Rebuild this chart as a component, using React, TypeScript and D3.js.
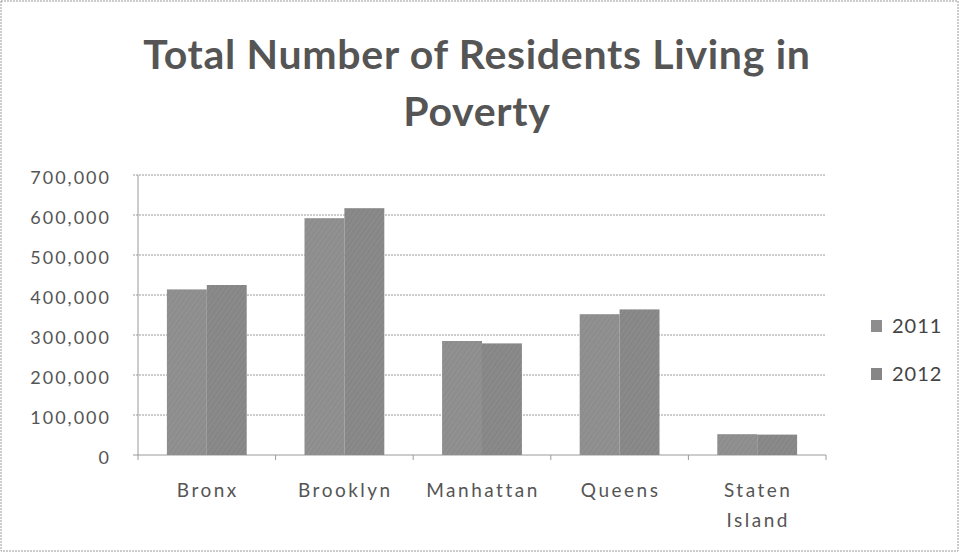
import React from "react";
import * as d3 from "d3";

const categories = ["Bronx", "Brooklyn", "Manhattan", "Queens", "Staten Island"];
const seriesNames = ["2011", "2012"];
const values2011 = [414000, 592000, 285000, 352000, 52000];
const values2012 = [425000, 617000, 279000, 364000, 51000];
const yTicks = [0, 100000, 200000, 300000, 400000, 500000, 600000, 700000];
const titleLines = ["Total Number of Residents Living in", "Poverty"];

const W = 960;
const H = 552;
const FONT = "Lato, 'Open Sans', sans-serif";

export default function App() {
  const left = 138, right = 826, top = 175, bottom = 455;
  const x = d3.scaleBand<string>().domain(categories).range([left, right]).paddingInner(0).paddingOuter(0);
  const y = d3.scaleLinear().domain([0, 700000]).range([bottom, top]);
  const groupW = x.bandwidth() * 0.58;
  const inner = d3.scaleBand<string>().domain(seriesNames).range([0, groupW]).padding(0);
  const series = [values2011, values2012];
  const colors = ["#8d8d8d", "#868686"];
  const fmt = d3.format(",");

  return (
    <svg width={W} height={H} style={{ position: "fixed", left: 0, top: 0, background: "#fff" }} fontFamily={FONT}>
      <defs>
        <pattern id="tex" width="4" height="4" patternUnits="userSpaceOnUse" patternTransform="rotate(35)">
          <rect width="4" height="4" fill="none" />
          <line x1="0" y1="0" x2="0" y2="4" stroke="#ffffff" strokeOpacity="0.12" strokeWidth="1" />
        </pattern>
      </defs>
      <rect x={1} y={1} width={W - 3} height={H - 2} fill="#fff" stroke="#9a9a9a" strokeWidth={1} strokeDasharray="2,1" />
      {titleLines.map((t, i) => (
        <text key={i} x={477} y={69 + i * 57} textAnchor="middle" fontSize={41} fontWeight="bold" letterSpacing={0.7} fill="#555">
          {t}
        </text>
      ))}
      {yTicks.map((t) => (
        <g key={t}>
          <line x1={left - 5} x2={right} y1={y(t)} y2={y(t)} stroke="#9a9a9a" strokeWidth={1} strokeDasharray={t === 0 ? "" : "2,1"} />
          <text x={111} y={y(t) + 3} dy="0.35em" textAnchor="end" fontSize={18} letterSpacing={2} fill="#555">
            {fmt(t)}
          </text>
        </g>
      ))}
      <line x1={left} x2={left} y1={top} y2={bottom} stroke="#9a9a9a" strokeWidth={1} />
      {[...categories.map((c) => x(c) as number), right].map((px, i) => (
        <line key={i} x1={px} x2={px} y1={bottom} y2={bottom + 5} stroke="#9a9a9a" strokeWidth={1} />
      ))}
      {categories.map((c, ci) => {
        const gx = (x(c) as number) + (x.bandwidth() - groupW) / 2;
        return (
          <g key={c}>
            {seriesNames.map((s, si) => {
              const v = series[si][ci];
              const bx = gx + (inner(s) as number);
              return (
                <g key={s}>
                  <rect x={bx} y={y(v)} width={inner.bandwidth()} height={bottom - y(v)} fill={colors[si]} />
                  <rect x={bx} y={y(v)} width={inner.bandwidth()} height={bottom - y(v)} fill="url(#tex)" />
                </g>
              );
            })}
            {c.split(" ").map((w, li) => (
              <text key={li} x={(x(c) as number) + x.bandwidth() / 2 + 1} y={497 + li * 30} textAnchor="middle" fontSize={19} letterSpacing={2.5} fill="#555">
                {w}
              </text>
            ))}
          </g>
        );
      })}
      {seriesNames.map((s, i) => (
        <g key={s} transform={`translate(871, ${326 + i * 48})`}>
          <rect x={0} y={-6} width={11} height={12} fill={colors[i]} />
          <text x={21} y={7} fontSize={20} letterSpacing={1} fill="#444">
            {s}
          </text>
        </g>
      ))}
    </svg>
  );
}
